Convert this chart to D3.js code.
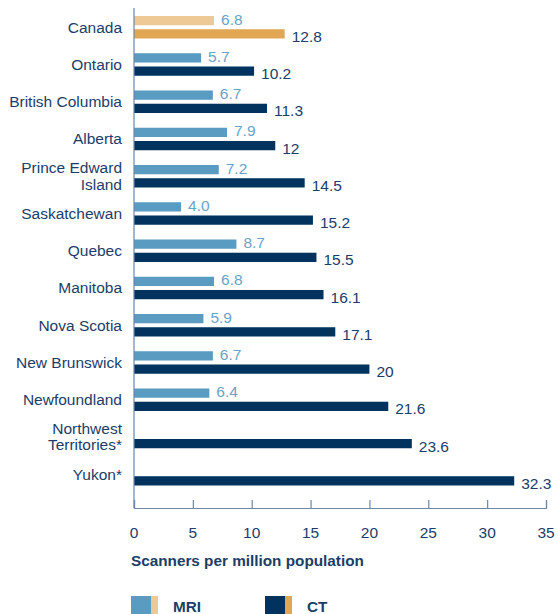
<!DOCTYPE html>
<html>
<head>
<meta charset="utf-8">
<script src="https://cdn.jsdelivr.net/npm/d3@7"></script>
<style>
  body { margin: 0; background: #fff; }
  text { font-family: "Liberation Sans", Arial, Helvetica, sans-serif; }
</style>
</head>
<body>
<div id="chart"></div>
<script>
const provinces = ["Canada", "Ontario", "British Columbia", "Alberta", "Prince Edward Island",
  "Saskatchewan", "Quebec", "Manitoba", "Nova Scotia", "New Brunswick", "Newfoundland",
  "Northwest Territories*", "Yukon*"];
const labelLines = [["Canada"], ["Ontario"], ["British Columbia"], ["Alberta"], ["Prince Edward", "Island"],
  ["Saskatchewan"], ["Quebec"], ["Manitoba"], ["Nova Scotia"], ["New Brunswick"], ["Newfoundland"],
  ["Northwest", "Territories*"], ["Yukon*"]];
const mriValues = [6.8, 5.7, 6.7, 7.9, 7.2, 4.0, 8.7, 6.8, 5.9, 6.7, 6.4, null, null];
const ctValues = [12.8, 10.2, 11.3, 12, 14.5, 15.2, 15.5, 16.1, 17.1, 20, 21.6, 23.6, 32.3];
const mriLabels = ["6.8", "5.7", "6.7", "7.9", "7.2", "4.0", "8.7", "6.8", "5.9", "6.7", "6.4", "", ""];
const ctLabels = ["12.8", "10.2", "11.3", "12", "14.5", "15.2", "15.5", "16.1", "17.1", "20", "21.6", "23.6", "32.3"];
const xTicks = [0, 5, 10, 15, 20, 25, 30, 35];

const W = 558, H = 614;
const navy = "#02335f", mriBlue = "#5a9bc1", axisCol = "#6c88a6", textCol = "#1b3d68";

const svg = d3.select("#chart").append("svg").attr("width", W).attr("height", H);

const x = d3.scaleLinear().domain([0, 35]).range([134, 546]);
const y = d3.scaleBand().domain(provinces).range([12, 12 + 13 * 37.25]);
const inner = d3.scaleBand().domain(["MRI", "CT"]).range([4, 26.5]).paddingInner(0.3);

const rows = provinces.map((p, i) => ({p, i, mri: mriValues[i], ct: ctValues[i]}));

// bars
const g = svg.append("g");
g.selectAll(".mri").data(rows.filter(d => d.mri != null)).enter().append("rect")
  .attr("x", x(0)).attr("y", d => y(d.p) + inner("MRI"))
  .attr("width", d => x(d.mri) - x(0)).attr("height", inner.bandwidth())
  .attr("fill", d => d.i === 0 ? "#eec995" : mriBlue);
g.selectAll(".ct").data(rows).enter().append("rect")
  .attr("x", x(0)).attr("y", d => y(d.p) + inner("CT"))
  .attr("width", d => x(d.ct) - x(0)).attr("height", inner.bandwidth())
  .attr("fill", d => d.i === 0 ? "#e2a755" : navy);

// value labels
g.selectAll(".mrit").data(rows.filter(d => d.mri != null)).enter().append("text")
  .attr("x", d => x(d.mri) + 7).attr("y", d => y(d.p) + inner("MRI") + inner.bandwidth() / 2 + 4)
  .attr("fill", "#6aa3c7").style("font-size", "15.5px").text(d => mriLabels[d.i]);
g.selectAll(".ctt").data(rows).enter().append("text")
  .attr("x", d => x(d.ct) + 7).attr("y", d => y(d.p) + inner("CT") + inner.bandwidth() / 2 + 8)
  .attr("fill", textCol).style("font-size", "15.5px").text(d => ctLabels[d.i]);

// category labels
const lab = g.selectAll(".lab").data(rows).enter().append("text")
  .attr("text-anchor", "end").attr("fill", textCol).style("font-size", "15.5px")
  .attr("transform", d => `translate(122,${y(d.p) + 15 + 5.5 - (labelLines[d.i].length - 1) * 8.5})`);
lab.each(function(d) {
  labelLines[d.i].forEach((t, k) => {
    d3.select(this).append("tspan").attr("x", 0).attr("dy", k === 0 ? 0 : 16.5).text(t);
  });
});

// vertical axis line
svg.append("line").attr("x1", x(0)).attr("x2", x(0)).attr("y1", 8).attr("y2", 508)
  .attr("stroke", axisCol).attr("stroke-width", 1.2);

// x axis
const ax = svg.append("g").attr("transform", "translate(0,508)")
  .call(d3.axisTop(x).tickValues(xTicks).tickSize(8).tickFormat(""));
ax.select(".domain").attr("stroke", axisCol).attr("stroke-width", 1.2);
ax.selectAll(".tick line").attr("stroke", axisCol).attr("stroke-width", 1.2);
svg.selectAll(".tl").data(xTicks).enter().append("text")
  .attr("x", d => x(d)).attr("y", 537.5).attr("text-anchor", "middle")
  .attr("fill", textCol).style("font-size", "15.5px").text(d => d);

svg.append("text").attr("x", 131).attr("y", 566).attr("fill", textCol)
  .style("font-size", "15.3px").style("font-weight", "bold").text("Scanners per million population");

// legend
const leg = [{name: "MRI", c1: mriBlue, c2: "#eec995", x: 131}, {name: "CT", c1: navy, c2: "#e2a755", x: 265}];
const lg = svg.selectAll(".leg").data(leg).enter().append("g");
lg.append("rect").attr("x", d => d.x).attr("y", 596).attr("width", 20).attr("height", 18).attr("fill", d => d.c1);
lg.append("rect").attr("x", d => d.x + 20).attr("y", 596).attr("width", 7).attr("height", 18).attr("fill", d => d.c2);
lg.append("text").attr("x", d => d.x + 42).attr("y", 612).attr("fill", textCol)
  .style("font-size", "15.3px").style("font-weight", "bold").text(d => d.name);
</script>
</body>
</html>
